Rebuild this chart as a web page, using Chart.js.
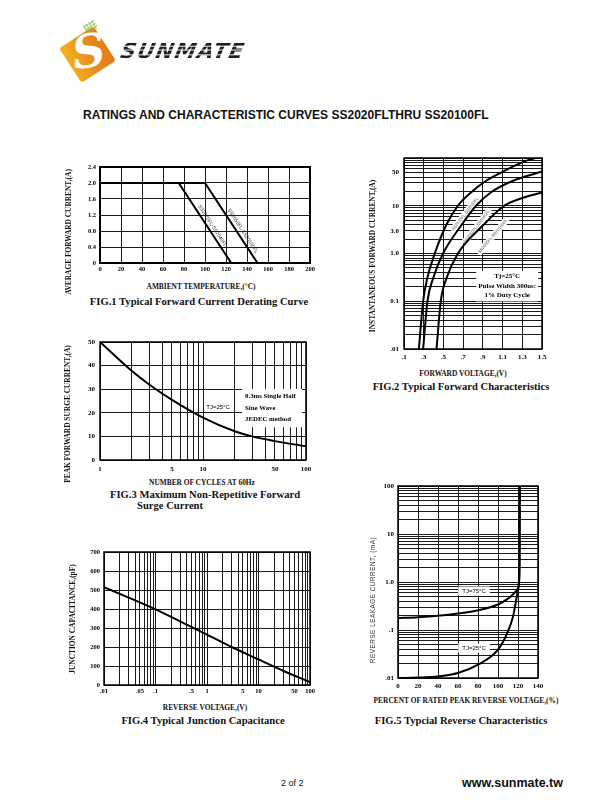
<!DOCTYPE html>
<html>
<head>
<meta charset="utf-8">
<script src="https://cdn.jsdelivr.net/npm/chart.js@4.4.1/dist/chart.umd.min.js"></script>
<style>
  body { margin:0; width:610px; height:810px; background:#fff; position:relative; overflow:hidden; font-family:"Liberation Serif", serif; }
  canvas { position:absolute; }
  .t { position:absolute; white-space:nowrap; color:#111; font-weight:bold; }
  .c { transform:translate(-50%,-50%); }
  .v { transform:translate(-50%,-50%) rotate(-90deg); }
  .ax { font-size:7.4px; }
  .cap { font-size:10.6px; }
  .sans { font-family:"Liberation Sans", Arial, sans-serif; }
  #sq { position:absolute; left:67px; top:34px; width:41px; height:41px; border-radius:3px;
        background:linear-gradient(100deg,#f3b41f,#e88a1c 60%,#e37a18); transform:rotate(-33deg); }
  #ess { position:absolute; left:72px; top:24px; font:italic bold 46px "DejaVu Serif", serif; color:#fff; transform:rotate(-8deg); }
  #dots { position:absolute; left:84px; top:22px; width:13px; height:10px;
          background:radial-gradient(circle,#86b83c 0.9px,transparent 1.3px) 0 0/3px 3px; transform:rotate(-33deg); }
  #brand { position:absolute; left:121px; top:39px; font:italic bold 21px "DejaVu Sans", sans-serif; letter-spacing:1.5px;
           background:repeating-linear-gradient(180deg,#1e1e1e 0 3px,#fff 3px 4px); -webkit-background-clip:text; background-clip:text; color:transparent;
           transform:skewX(-12deg); }
</style>
</head>
<body>

<div id="sq"></div><div id="dots"></div><div id="ess">S</div>
<div id="brand">SUNMATE</div>

<div class="t sans" style="left:83px;top:108px;font-size:12px;">RATINGS AND CHARACTERISTIC CURVES SS2020FLTHRU SS20100FL</div>

<canvas id="fig1"></canvas>
<canvas id="fig2"></canvas>
<canvas id="fig3"></canvas>
<canvas id="fig4"></canvas>
<canvas id="fig5"></canvas>

<!-- axis titles and captions -->
<div class="t ax v" style="left:68px;top:232px;">AVERAGE FORWARD CURRENT,(A)</div>
<div class="t ax c" style="left:201px;top:286px;">AMBIENT TEMPERATURE,(°C)</div>
<div class="t cap c" style="left:199px;top:301px;">FIG.1 Typical Forward Current Derating Curve</div>

<div class="t ax v" style="left:372px;top:256px;">INSTANTANEOUS FORWARD CURRENT,(A)</div>
<div class="t ax c" style="left:463px;top:373px;">FORWARD VOLTAGE,(V)</div>
<div class="t cap c" style="left:461px;top:386px;">FIG.2 Typical Forward Characteristics</div>

<div class="t ax v" style="left:67px;top:414px;">PEAK FORWARD SURGE CURRENT,(A)</div>
<div class="t ax c" style="left:202px;top:482px;">NUMBER OF CYCLES AT 60Hz</div>
<div class="t cap c" style="left:205px;top:494px;">FIG.3 Maximum Non-Repetitive Forward</div>
<div class="t cap" style="left:137px;top:500px;">Surge Current</div>

<div class="t ax v" style="left:72px;top:619px;">JUNCTION CAPACITANCE,(pF)</div>
<div class="t ax c" style="left:205px;top:707px;">REVERSE VOLTAGE,(V)</div>
<div class="t cap c" style="left:203px;top:720px;">FIG.4 Typical Junction Capacitance</div>

<div class="t v sans" style="left:372px;top:600px;font-size:6.4px;font-weight:normal;letter-spacing:0.5px;color:#333;">REVERSE LEAKAGE CURRENT, (mA)</div>
<div class="t ax c" style="left:466px;top:700px;">PERCENT OF RATED PEAK REVERSE VOLTAGE,(%)</div>
<div class="t cap c" style="left:461px;top:720px;">FIG.5 Typcial Reverse Characteristics</div>

<div class="t sans" style="left:281px;top:778px;font-size:9px;font-weight:normal;">2 of 2</div>
<div class="t sans" style="left:462px;top:776px;font-size:12.5px;">www.sunmate.tw</div>

<script>
// log grid 1..9 per decade (grid positions only)
function logGrid(lo, hi) {
  const out = [];
  for (let e = Math.round(Math.log10(lo)); e < Math.round(Math.log10(hi)); e++)
    for (let m = 1; m <= 9; m++) out.push(+(m * Math.pow(10, e)).toPrecision(3));
  out.push(hi);
  return out;
}

// ---- FIG.1 derating ----
const f1TempTicks = [0, 20, 40, 60, 80, 100, 120, 140, 160, 180, 200];
const f1AmpTicks = [0, 0.4, 0.8, 1.2, 1.6, 2.0, 2.4];
const f1AmpLabels = ['0', '0.4', '0.8', '1.2', '1.6', '2.0', '2.4'];
const f1LowTemp = [0, 75, 125];
const f1LowAmp = [2.0, 2.0, 0];
const f1HighTemp = [0, 100, 150];
const f1HighAmp = [2.0, 2.0, 0];

// ---- FIG.2 forward characteristics ----
const f2VoltTicks = [0.1, 0.3, 0.5, 0.7, 0.9, 1.1, 1.3, 1.5];
const f2VoltLabels = ['.1', '.3', '.5', '.7', '.9', '1.1', '1.3', '1.5'];
const f2AmpLabelVals = [0.01, 0.1, 1, 3, 10, 50];
const f2AmpLabels = ['.01', '0.1', '1.0', '3.0', '10', '50'];
const f2aVolt = [0.251, 0.294, 0.335, 0.412, 0.53, 0.647, 0.78, 0.90, 1.08, 1.33, 1.5];
const f2aAmp = [0.01, 0.1, 0.3, 1.0, 4.0, 10, 19, 30, 49, 86, 108];
const f2bVolt = [0.294, 0.338, 0.395, 0.496, 0.68, 0.83, 0.98, 1.2, 1.5];
const f2bAmp = [0.01, 0.1, 0.3, 1.0, 3.85, 10, 19, 33, 52];
const f2cVolt = [0.43, 0.473, 0.53, 0.647, 0.90, 1.117, 1.3, 1.5];
const f2cAmp = [0.01, 0.1, 0.3, 1.0, 3.85, 10, 14.5, 19];

// ---- FIG.3 surge current ----
const f3CycleTicks = [1, 2, 3, 4, 5, 6, 7, 8, 9, 10, 20, 30, 40, 50, 60, 70, 80, 90, 100];
const f3CycleLabelVals = [1, 5, 10, 50, 100];
const f3AmpTicks = [0, 10, 20, 30, 40, 50];
const f3Cycles = [1, 2, 3, 5, 10, 20, 30, 50, 100];
const f3Amps = [50, 38, 32, 25.5, 18, 12.3, 10, 8, 5.8];

// ---- FIG.4 junction capacitance ----
const f4VoltLabelVals = [0.01, 0.05, 0.1, 0.5, 1, 5, 10, 50, 100];
const f4VoltLabels = ['.01', '.05', '.1', '.5', '1', '5', '10', '50', '100'];
const f4CapTicks = [0, 100, 200, 300, 400, 500, 600, 700];
const f4Volt = [0.01, 0.03, 0.1, 0.3, 1, 3, 10, 30, 100];
const f4Cap = [515, 460, 398, 335, 265, 200, 135, 75, 15];

// ---- FIG.5 reverse characteristics ----
const f5PctTicks = [0, 20, 40, 60, 80, 100, 120, 140];
const f5LeakLabelVals = [0.01, 0.1, 1, 10, 100];
const f5LeakLabels = ['.01', '.1', '1.0', '10', '100'];
const f5Pct75 = [0, 20, 40, 60, 80, 100, 110, 116, 120, 121, 121.5, 121.8];
const f5Leak75 = [0.178, 0.185, 0.198, 0.22, 0.257, 0.34, 0.45, 0.58, 0.75, 1.0, 3, 100];
const f5Pct25 = [0, 20, 40, 60, 80, 100, 110, 115, 118, 120, 121, 121.5, 121.8];
const f5Leak25 = [0.0100, 0.0102, 0.0108, 0.0127, 0.019, 0.039, 0.094, 0.19, 0.4, 0.7, 1.0, 3, 100];

const SERIF = 'Liberation Serif';

function labelFor(vals, texts) {
  return v => {
    const i = vals.findIndex(a => Math.abs(a - v) <= 1e-6 * Math.max(1e-3, Math.abs(a)));
    return i < 0 ? '' : (texts ? texts[i] : String(vals[i]));
  };
}

function axis(isX, type, min, max, grid, label, fs, pad) {
  return {
    type, min, max,
    position: isX ? 'bottom' : 'left',
    afterBuildTicks: s => { s.ticks = grid.map(v => ({ value: v })); },
    grid: { color: '#1a1a1a', lineWidth: 1, drawTicks: false },
    border: { display: false },
    ticks: {
      autoSkip: false, maxRotation: 0, minRotation: 0, padding: pad, color: '#000',
      font: { family: SERIF, size: fs, weight: 'bold' },
      callback: label
    }
  };
}

function curve(xs, ys, smooth) {
  return {
    data: xs.map((x, i) => ({ x, y: ys[i] })),
    showLine: true, borderColor: '#000', borderWidth: 2, pointRadius: 0,
    cubicInterpolationMode: smooth ? 'monotone' : 'default', tension: 0
  };
}

const framePlugin = w => ({
  id: 'frame',
  afterDraw(c) {
    const a = c.chartArea, ctx = c.ctx;
    ctx.save();
    ctx.lineWidth = w; ctx.strokeStyle = '#000';
    ctx.strokeRect(a.left, a.top, a.right - a.left, a.bottom - a.top);
    ctx.restore();
  }
});

// text notes, drawn under the curves so the white patches only hide grid lines
const notesPlugin = notes => ({
  id: 'notes',
  beforeDatasetsDraw(c) {
    const ctx = c.ctx;
    notes.forEach(n => {
      const px = c.scales.x.getPixelForValue(n.x), py = c.scales.y.getPixelForValue(n.y);
      ctx.save();
      ctx.translate(px, py);
      ctx.rotate((n.angle || 0) * Math.PI / 180);
      ctx.font = n.font;
      const w = n.w || Math.max(...n.lines.map(s => ctx.measureText(s).width));
      const h = n.lines.length * n.lh;
      const [padX, padY] = n.pad || [2, 1];
      if (n.bg !== false) {
        ctx.fillStyle = '#fff';
        const bx = n.align === 'left' ? -padX : -w / 2 - padX;
        ctx.fillRect(bx, -h / 2 - padY, w + 2 * padX, h + 2 * padY);
      }
      ctx.fillStyle = n.color || '#000';
      ctx.textAlign = n.align || 'center';
      ctx.textBaseline = 'middle';
      n.lines.forEach((s, i) => ctx.fillText(s, 0, -h / 2 + n.lh * (i + 0.5)));
      ctx.restore();
    });
  }
});

function drawChart(id, box, xAx, yAx, datasets, notes, frameW) {
  const ml = 40, mt = 8, mr = 14, mb = 16;
  const cv = document.getElementById(id);
  cv.width = box.r - box.l + ml + mr;
  cv.height = box.b - box.t + mt + mb;
  cv.style.left = (box.l - ml) + 'px';
  cv.style.top = (box.t - mt) + 'px';
  const fix = (s, isX) => {
    if (isX) s.height = mb; else s.width = ml;
    s.paddingLeft = s.paddingRight = s.paddingTop = s.paddingBottom = 0;
  };
  xAx.afterFit = s => fix(s, true);
  yAx.afterFit = s => fix(s, false);
  return new Chart(cv.getContext('2d'), {
    type: 'scatter',
    data: { datasets },
    options: {
      responsive: false, animation: false, devicePixelRatio: 1,
      layout: { padding: { top: mt, right: mr, left: 0, bottom: 0 } },
      plugins: { legend: { display: false }, tooltip: { enabled: false } },
      scales: { x: xAx, y: yAx }
    },
    plugins: [notesPlugin(notes), framePlugin(frameW)]
  });
}

const sansSmall = '5px "Liberation Sans"';

// FIG.1
drawChart('fig1', { l: 100, t: 167, r: 310, b: 263 },
  axis(true, 'linear', 0, 200, f1TempTicks, labelFor(f1TempTicks), 6.5, 2),
  axis(false, 'linear', 0, 2.4, f1AmpTicks, labelFor(f1AmpTicks, f1AmpLabels), 6.5, 4),
  [curve(f1LowTemp, f1LowAmp, false), curve(f1HighTemp, f1HighAmp, false)],
  [
    { x: 107, y: 0.93, angle: 57, font: sansSmall, lh: 6, lines: ['SS2020FL-SS2040FL'], bg: false, color: '#333' },
    { x: 136, y: 0.8, angle: 57, font: sansSmall, lh: 6, lines: ['SS2050FL-SS20100FL'], bg: false, color: '#333' }
  ], 2);

// FIG.2
const tiny = '4.2px "Liberation Sans"';
drawChart('fig2', { l: 404, t: 158, r: 542, b: 349 },
  axis(true, 'linear', 0.1, 1.5, f2VoltTicks, labelFor(f2VoltTicks, f2VoltLabels), 7, 4),
  axis(false, 'logarithmic', 0.01, 100, logGrid(0.01, 100), labelFor(f2AmpLabelVals, f2AmpLabels), 7, 5),
  [curve(f2aVolt, f2aAmp, true), curve(f2bVolt, f2bAmp, true), curve(f2cVolt, f2cAmp, true)],
  [
    { x: 0.72, y: 6.7, angle: -52, font: tiny, lh: 5, lines: ['SS2020FL-SS2040FL'], pad: [1, 0.8], color: '#555' },
    { x: 0.84, y: 3.7, angle: -52, font: tiny, lh: 5, lines: ['SS2050FL-SS2060FL'], pad: [1, 0.8], color: '#555' },
    { x: 1.0, y: 2.3, angle: -50, font: tiny, lh: 5, lines: ['SS2080FL-SS20100FL'], pad: [1, 0.8], color: '#555' },
    { x: 1.147, y: 0.207, font: 'bold 7px "Liberation Serif"', lh: 9.5, lines: ['Tj=25°C', 'Pulse Width 300us:', '1% Duty Cycle'], pad: [2, 1] }
  ], 1.5);

// FIG.3
drawChart('fig3', { l: 100, t: 342, r: 306, b: 460 },
  axis(true, 'logarithmic', 1, 100, f3CycleTicks, labelFor(f3CycleLabelVals), 7, 5),
  axis(false, 'linear', 0, 50, f3AmpTicks, labelFor(f3AmpTicks), 7, 5),
  [curve(f3Cycles, f3Amps, true)],
  [
    { x: 14, y: 22.5, font: '6px "Liberation Sans"', lh: 7, lines: ['TJ=25°C'], pad: [2, 1] },
    { x: 25.6, y: 22, align: 'left', w: 54, font: 'bold 6.8px "Liberation Serif"', lh: 11.5, lines: ['8.3ms Single Half', 'Sine Wave', 'JEDEC method'], pad: [3, 2] }
  ], 1.5);

// FIG.4
drawChart('fig4', { l: 104, t: 552, r: 310, b: 685 },
  axis(true, 'logarithmic', 0.01, 100, logGrid(0.01, 100), labelFor(f4VoltLabelVals, f4VoltLabels), 6.5, 2),
  axis(false, 'linear', 0, 700, f4CapTicks, labelFor(f4CapTicks), 6.5, 4),
  [curve(f4Volt, f4Cap, true)],
  [], 1.5);

// FIG.5
drawChart('fig5', { l: 398, t: 486, r: 538, b: 678 },
  axis(true, 'linear', 0, 140, f5PctTicks, labelFor(f5PctTicks), 7, 4),
  axis(false, 'logarithmic', 0.01, 100, logGrid(0.01, 100), labelFor(f5LeakLabelVals, f5LeakLabels), 7, 4),
  [curve(f5Pct75, f5Leak75, true), curve(f5Pct25, f5Leak25, true)],
  [
    { x: 76, y: 0.65, font: '6px "Liberation Sans"', lh: 7, lines: ['TJ=75°C'], pad: [4, 1] },
    { x: 76, y: 0.042, font: '6px "Liberation Sans"', lh: 7, lines: ['TJ=25°C'], pad: [4, 1] }
  ], 1.5);
</script>
</body>
</html>
